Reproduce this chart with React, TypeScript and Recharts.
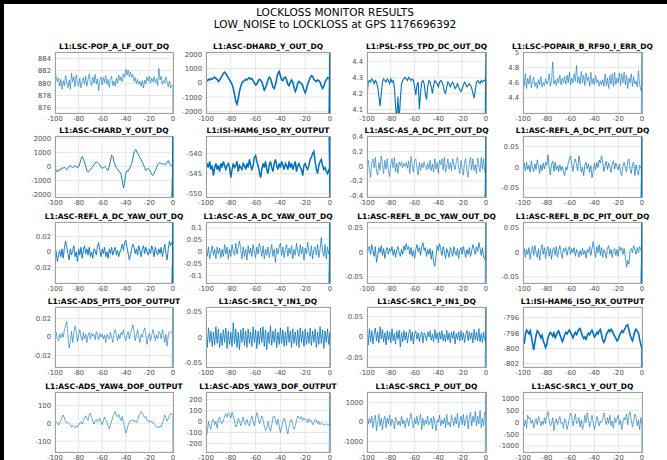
import React from "react";
import { LineChart, Line, XAxis, YAxis, CartesianGrid } from "recharts";

// time axis, seconds before lockloss
const SECONDS = Array.from({ length: 101 }, (_, i) => i - 100);
const X_TICKS = [-100, -80, -60, -40, -20, 0];

const POP_A_LF = [
  882.3, 881.0, 880.2, 880.8, 879.5, 880.6, 879.0, 880.4, 879.6, 881.2,
  880.0, 879.3, 880.5, 879.0, 881.6, 880.2, 881.0, 879.4, 881.3, 880.1,
  879.5, 880.8, 879.2, 880.3, 880.9, 879.8, 881.1, 879.5, 880.6, 881.5,
  880.2, 879.6, 881.0, 880.0, 881.4, 879.9, 880.7, 878.8, 880.4, 881.0,
  879.7, 880.9, 880.1, 881.2, 879.8, 880.6, 879.3, 880.5, 881.1, 879.6,
  880.3, 879.5, 880.8, 880.0, 881.3, 880.4, 881.0, 880.2, 881.5, 880.9,
  882.2, 881.3, 882.1, 881.0, 881.8, 880.9, 881.4, 880.3, 880.9, 879.9,
  880.6, 879.8, 880.3, 879.5, 880.4, 879.2, 880.5, 879.9, 881.0, 880.3,
  881.1, 880.0, 880.8, 880.2, 881.0, 880.1, 880.7, 879.6, 882.4, 880.5,
  881.1, 879.8, 880.4, 880.0, 881.0, 880.2, 879.4, 880.3, 879.2, 879.7,
  879.5,
];

const DHARD_Y = [
  200, 150, 250, 200, 300, 250, 350, 400, 300, 250,
  100, 200, 350, 500, 650, 750, 650, 500, 350, 200,
  50, -100, -400, -800, -1300, -1500, -1100, -600, -250, 0,
  100, 150, 250, 200, 300, 350, 250, 300, 150, 0,
  -150, -100, 100, 250, 200, 50, -200, -500, -350, -100,
  200, 400, 300, 0, -300, -400, -150, 300, 650, 800,
  500, 200, 150, 350, 400, 200, -100, -200, 50, 200,
  50, -300, -600, -400, 0, 100, 0, -50, -200, -500,
  -700, -450, -100, 150, 350, 500, 450, 250, 150, 100,
  200, 150, 50, -200, -400, -250, 50, 200, 350, 300,
  300,
];

const TPD_DC = [
  4.17, 4.27, 4.28, 4.27, 4.29, 4.28, 4.26, 4.28, 4.27, 4.24,
  4.18, 4.12, 4.2, 4.27, 4.29, 4.28, 4.27, 4.29, 4.28, 4.26,
  4.29, 4.27, 4.28, 4.24, 4.12, 4.03, 4.18, 4.03, 4.16, 4.26,
  4.28, 4.29, 4.3, 4.29, 4.28, 4.3, 4.29, 4.28, 4.29, 4.28,
  4.24, 4.19, 4.25, 4.27, 4.1, 4.2, 4.27, 4.28, 4.26, 4.2,
  4.16, 4.24, 4.28, 4.27, 4.24, 4.2, 4.25, 4.28, 4.27, 4.26,
  4.24, 4.27, 4.28, 4.27, 4.25, 4.21, 4.2, 4.24, 4.27, 4.26,
  4.24, 4.26, 4.27, 4.25, 4.23, 4.24, 4.26, 4.24, 4.22, 4.21,
  4.23, 4.25, 4.27, 4.26, 4.24, 4.25, 4.26, 4.25, 4.23, 4.2,
  4.17, 4.22, 4.27, 4.28, 4.27, 4.26, 4.28, 4.27, 4.28, 4.28,
  4.3,
];

const POPAIR_RF90 = [
  4.8, 4.55, 4.72, 4.52, 4.66, 4.58, 4.7, 4.53, 4.62, 4.68,
  4.55, 4.6, 4.52, 4.64, 4.57, 4.68, 4.54, 4.6, 4.56, 4.65,
  4.58, 4.62, 4.72, 4.55, 4.63, 4.88, 4.58, 4.64, 4.56, 4.66,
  4.6, 4.7, 4.57, 4.66, 4.6, 4.68, 4.58, 4.7, 4.6, 4.74,
  4.57, 4.66, 4.6, 4.72, 4.62, 4.83, 4.6, 4.68, 4.58, 4.75,
  4.6, 4.7, 4.56, 4.73, 4.62, 4.68, 4.55, 4.74, 4.58, 4.66,
  4.57, 4.7, 4.6, 4.64, 4.55, 4.62, 4.57, 4.64, 4.55, 4.72,
  4.56, 4.66, 4.52, 4.7, 4.58, 4.72, 4.55, 4.74, 4.57, 4.66,
  4.6, 4.73, 4.56, 4.72, 4.6, 4.74, 4.57, 4.7, 4.52, 4.66,
  4.6, 4.72, 4.55, 4.68, 4.58, 4.62, 4.54, 4.76, 4.58, 4.5,
  4.5,
];

const CHARD_Y = [
  100, -400, -300, -350, -200, -250, -100, -150, -50, -150,
  -250, -150, 0, 50, -50, -100, 0, 50, -50, -100,
  -50, 200, 500, 700, 550, 300, 0, -300, -400, -350,
  -250, -100, 0, 100, 250, 300, 300, 200, 100, -50,
  -150, -100, 0, -100, -200, -300, 0, 400, 800, 700,
  300, 100, -100, -200, -350, -400, -600, -1000, -1550, -1200,
  -500, -300, -350, -200, 0, 200, 600, 1000, 1200, 1150,
  900, 800, 600, 500, 300, 100, -100, -300, -200, -150,
  -250, -400, -600, -650, -500, -300, -100, 100, 200, 250,
  200, 150, 200, 100, 150, 300, 400, 200, 100, 0,
  0,
];

const HAM6_RY = [
  -544, -542.5, -543.5, -542, -544, -543, -545.5, -543.5, -542.5, -544,
  -543, -544.5, -542.5, -543.5, -542, -543, -544, -543, -542.5, -543.5,
  -546, -544, -542.5, -543.5, -543, -542, -544.5, -543, -543.5, -544,
  -542.5, -543, -544, -542.5, -543.5, -541.5, -543, -544, -543, -541,
  -540.5, -542, -543, -544.5, -546, -544, -542.5, -543.5, -542, -544,
  -545, -543, -542, -543.5, -544.5, -542.5, -541.5, -543, -544, -542.5,
  -543.5, -542, -543, -544, -542.5, -543, -544, -542, -543.5, -542.5,
  -544, -543, -542, -544.5, -543, -542.5, -543.5, -544, -545.5, -543,
  -542.5, -543.5, -544, -543, -541.5, -541, -540, -539.5, -542, -544,
  -545, -543, -542, -541.5, -543, -544, -543.5, -544.5, -545, -544,
  -544,
];

const AS_A_PIT = [
  0, 0.08, -0.05, -0.15, 0.05, 0.1, -0.02, 0.12, -0.08, -0.12,
  0.05, -0.05, 0.14, 0.02, -0.1, 0.08, -0.04, 0.1, -0.06, -0.14,
  0.03, 0.1, -0.02, 0.12, -0.08, 0.04, -0.1, 0.06, 0.01, 0.06,
  -0.02, 0.04, 0, 0.05, -0.03, 0.07, -0.1, 0.13, 0.02, -0.08,
  0.08, 0.1, -0.02, -0.12, 0.05, -0.06, 0.04, -0.02, 0.06, 0,
  -0.05, 0.04, -0.04, 0.08, -0.06, 0.03, -0.08, 0.1, -0.04, 0.05,
  -0.1, 0.08, 0.02, 0.1, -0.05, 0.12, -0.08, 0, 0.1, -0.04,
  0.05, -0.06, 0.1, 0.02, -0.05, 0.06, 0.12, -0.02, -0.1, 0.08,
  -0.04, -0.12, 0.06, 0.1, -0.08, -0.15, 0.04, 0.12, -0.05, 0.1,
  -0.06, 0.02, -0.1, 0.11, 0, -0.08, 0.12, -0.04, 0.1, -0.08,
  -0.12,
];

const REFL_A_PIT = [
  0, 0.01, -0.008, 0.012, -0.005, 0.005, -0.012, 0.015, 0, -0.01,
  0.008, -0.005, 0.018, 0.004, -0.015, 0.006, -0.008, 0.01, -0.004, 0.012,
  0.005, 0.03, 0, -0.018, 0.008, 0.015, -0.01, 0.012, -0.006, 0.004,
  -0.01, 0.006, -0.008, 0.002, -0.012, -0.02, 0, -0.006, 0.01, 0.02,
  0.028, 0.005, -0.01, 0.012, 0.02, 0.006, -0.008, 0.028, 0.01, -0.012,
  0, -0.02, 0.006, 0.012, -0.004, 0.008, -0.012, 0.004, -0.025, -0.01,
  0.01, -0.006, 0.012, 0, 0.018, 0.01, 0.028, 0.012, -0.01, 0.006,
  0.015, -0.005, 0.01, 0, -0.012, 0.008, 0.016, -0.004, 0.01, 0.002,
  -0.006, 0.008, -0.012, -0.02, 0.004, 0.012, 0, -0.01, 0.015, 0.02,
  -0.005, -0.015, 0.008, 0.012, -0.02, 0.006, -0.008, -0.018, 0.005, 0,
  -0.01,
];

const REFL_A_YAW = [
  0.008, 0, -0.012, -0.004, 0.002, -0.006, 0.004, -0.008, 0.006, 0.014,
  0.006, -0.002, -0.01, 0.004, -0.004, 0.002, 0.008, -0.006, 0, -0.012,
  0.004, -0.004, 0.006, -0.008, 0.002, 0.008, -0.002, 0.004, -0.004, 0.006,
  -0.006, 0, -0.008, 0.004, 0.002, -0.004, 0.008, 0.012, 0.002, -0.006,
  0.004, -0.002, 0.006, -0.006, 0, -0.008, 0.004, -0.002, 0.006, -0.004,
  0.002, 0.006, -0.004, 0.002, -0.006, 0, 0.004, 0.01, 0.002, 0.012,
  0.015, 0.006, -0.002, -0.01, -0.004, 0.004, 0.01, 0.006, -0.002, 0.004,
  -0.004, 0.008, 0.002, -0.006, 0.004, 0.008, -0.002, 0.006, 0, -0.004,
  0.004, -0.002, 0.008, 0.002, -0.006, 0.006, 0, -0.004, 0.004, -0.002,
  0.006, -0.006, 0.002, 0.01, -0.002, -0.01, 0.004, 0.014, 0.008, 0.012,
  0.01,
];

const AS_A_YAW = [
  0.03, -0.02, 0.02, -0.03, 0, 0.025, -0.015, 0.01, -0.03, 0.02,
  -0.01, 0.015, -0.025, 0.01, -0.02, 0.03, -0.01, 0.02, -0.03, 0.01,
  -0.02, 0.03, 0, -0.015, 0.035, -0.01, 0.02, 0.045, 0.01, -0.03,
  0.02, -0.02, 0.01, -0.035, 0.025, -0.01, 0.015, -0.02, 0.03, 0,
  -0.025, 0.02, -0.01, 0.035, 0.01, -0.02, 0.025, -0.03, 0.01, -0.015,
  0.02, -0.025, 0, 0.03, -0.02, 0.01, -0.045, 0.015, -0.01, 0.02,
  0.035, -0.015, 0.02, -0.025, 0.01, 0.03, -0.02, 0.015, -0.01, 0.025,
  -0.03, 0.01, -0.015, 0.035, 0, -0.02, 0.03, -0.01, 0.02, -0.035,
  0.015, -0.01, 0.04, 0, -0.02, 0.025, -0.03, 0.01, 0.02, -0.015,
  0.03, -0.025, 0.01, 0.06, 0, -0.02, 0.03, -0.03, 0.02, -0.01,
  0,
];

const REFL_B_YAW = [
  -0.01, 0.008, 0.012, -0.004, 0.016, 0.004, -0.008, 0.012, -0.02, -0.006,
  0.01, 0, 0.014, -0.006, 0.008, -0.012, 0.004, 0.01, -0.004, 0.008,
  0.002, 0.012, -0.006, 0.006, -0.01, 0.004, 0.012, 0, -0.008, 0.006,
  -0.004, 0.014, 0.004, 0.018, 0.006, 0.012, -0.004, 0.01, -0.008, 0.004,
  -0.012, 0.006, 0.016, 0.002, 0.01, -0.006, 0.012, 0.02, 0.004, 0.01,
  -0.008, 0.006, -0.004, 0.008, -0.014, 0.004, -0.02, -0.028, -0.008, 0.014,
  0.004, 0.018, 0.006, -0.006, 0.012, 0.002, -0.012, 0.008, 0, -0.01,
  0.01, 0.004, -0.008, 0.012, 0, -0.006, 0.008, -0.012, 0.004, 0.01,
  -0.004, 0.012, 0, -0.01, 0.006, -0.004, 0.01, -0.008, 0.004, 0.016,
  0.006, -0.004, 0.012, 0.002, 0.02, 0.008, -0.006, 0.01, -0.01, -0.014,
  -0.004,
];

const REFL_B_PIT = [
  -0.006, 0.008, -0.01, 0.006, -0.004, 0.01, -0.014, 0.004, 0.012, -0.006,
  0.014, 0, -0.01, 0.008, -0.016, 0.006, 0.016, -0.004, 0.01, -0.012,
  0.004, 0.012, -0.008, 0.008, -0.014, 0.006, 0.01, -0.006, 0.012, -0.01,
  0.004, 0.014, 0, -0.012, 0.008, 0.002, 0.01, -0.006, 0.006, 0.012,
  -0.004, 0.008, 0, 0.01, -0.008, 0.006, 0, -0.01, 0.004, -0.006,
  0.008, -0.004, 0.004, -0.012, 0.006, 0, 0.012, -0.006, 0.008, 0.022,
  0.004, -0.01, 0.012, 0, 0.016, -0.006, 0.01, -0.01, 0.006, 0,
  -0.012, 0.008, 0.014, -0.004, 0.006, -0.01, 0.004, 0.008, -0.006, 0.006,
  -0.008, 0.012, 0.004, 0.01, -0.004, 0.008, -0.01, -0.03, -0.016, -0.024,
  0.004, 0.008, 0, 0.014, 0.006, -0.004, 0.01, 0, 0.012, 0.006,
  0,
];

const ADS_PIT5 = [
  0, 0.005, -0.002, -0.004, 0.003, -0.001, 0.004, 0, 0.008, 0.012,
  0.017, 0.002, -0.012, -0.004, 0.006, -0.006, 0.004, 0.012, 0.006, -0.005,
  0.002, 0.008, 0, -0.004, 0.005, -0.002, 0.003, -0.006, 0.002, 0.005,
  -0.002, 0.004, 0.001, 0.003, -0.003, 0.006, 0.002, -0.003, 0.004, 0,
  0.003, -0.002, 0.002, -0.006, 0.003, 0, -0.002, 0.005, 0, -0.006,
  0.004, 0.008, 0.002, -0.004, 0.003, -0.002, 0.005, 0.002, 0.008, 0,
  -0.004, 0.002, 0.006, -0.002, 0.004, 0.008, 0.013, 0.006, -0.004, 0.002,
  0.008, 0, -0.006, 0.003, 0, 0.006, 0.01, 0.002, -0.008, 0,
  0.004, -0.004, 0.002, 0.008, 0.003, -0.004, 0.002, -0.002, 0.006, 0.004,
  -0.002, 0.008, 0.002, -0.006, 0.003, -0.01, 0.002, 0.006, 0.005, 0.004,
  0.005,
];

const SRC1_Y_IN1 = [
  0.015, -0.02, 0.018, -0.01, 0.012, -0.018, 0.01, -0.015, 0.02, -0.012,
  0.016, -0.02, 0.008, -0.016, 0.014, -0.01, 0.018, -0.022, 0.012, -0.014,
  0.01, -0.018, 0.028, -0.012, 0.016, -0.02, 0.01, -0.024, 0.014, -0.01,
  0.018, -0.016, 0.012, -0.02, 0.016, -0.012, 0.01, -0.018, 0.02, -0.01,
  0.014, -0.022, 0.012, -0.014, 0.018, -0.01, 0.02, -0.018, 0.014, -0.024,
  0.01, -0.012, 0.022, -0.016, 0.012, -0.01, 0.016, -0.02, 0.01, -0.014,
  0.018, -0.012, 0.014, -0.018, 0.01, -0.016, 0.02, -0.01, 0.012, -0.02,
  0.016, -0.012, 0.01, -0.016, 0.014, -0.02, 0.018, -0.01, 0.012, -0.018,
  0.016, -0.014, 0.01, -0.012, 0.018, -0.016, 0.012, -0.01, 0.016, -0.02,
  0.01, -0.014, 0.02, -0.012, 0.014, -0.022, 0.012, -0.01, 0.016, -0.014,
  0.01,
];

const SRC1_P_IN1 = [
  0.01, -0.02, 0.02, -0.012, 0.015, -0.018, 0.008, 0.022, -0.01, 0.012,
  -0.015, 0.025, -0.005, 0.018, -0.012, 0.01, -0.02, 0.015, -0.008, 0.012,
  -0.015, 0.02, -0.01, 0.008, -0.018, 0.014, -0.006, 0.016, -0.025, 0.01,
  -0.012, 0.015, -0.008, 0.012, -0.015, 0.006, 0.018, -0.01, 0.012, -0.018,
  0.008, 0.015, -0.006, 0.01, -0.012, 0.005, 0.012, -0.015, 0.01, 0.004,
  -0.01, 0.012, 0, 0.015, -0.008, 0.006, -0.012, 0.018, -0.005, 0.01,
  -0.015, 0.012, -0.006, 0.015, -0.01, 0.006, -0.012, 0.016, -0.008, 0.01,
  -0.015, 0.012, -0.004, 0.014, -0.018, 0.008, -0.006, 0.012, -0.01, 0.015,
  -0.008, 0.01, -0.014, 0.006, 0.016, -0.01, 0.012, -0.006, 0.01, -0.015,
  0.018, -0.008, 0.012, -0.01, 0.02, -0.012, 0.008, -0.014, 0.012, -0.008,
  -0.01,
];

const HAM6_RX = [
  -798.8, -799.4, -798.2, -797.6, -797.8, -798.1, -797.7, -798.4, -799.3, -800.2,
  -799.2, -798.3, -797.7, -797.9, -798.2, -798.6, -798.3, -799.0, -799.4, -799.9,
  -799.5, -798.6, -798.2, -797.9, -798.1, -798.4, -798.0, -798.6, -798.3, -797.9,
  -797.7, -798.2, -798.6, -799.1, -798.8, -798.2, -797.9, -798.1, -797.8, -797.6,
  -797.9, -798.3, -798.6, -798.2, -797.9, -798.2, -797.8, -797.5, -797.4, -797.9,
  -798.4, -798.7, -798.5, -798.8, -798.3, -798.0, -798.2, -797.8, -797.6, -798.0,
  -798.5, -798.3, -797.9, -798.1, -797.7, -797.5, -798.2, -798.9, -799.2, -798.8,
  -798.2, -797.9, -797.6, -797.8, -797.5, -797.7, -798.1, -798.4, -798.7, -799.0,
  -798.8, -798.3, -798.0, -797.7, -797.9, -797.6, -797.3, -797.0, -796.9, -797.6,
  -798.2, -798.7, -799.0, -798.4, -797.8, -797.5, -797.7, -798.0, -798.8, -799.5,
  -800.0,
];

const ADS_YAW4 = [
  0, 10, 2, -10, 5, 15, 32, 46, 30, 8,
  2, 5, -2, -8, -22, -12, -18, -25, -15, -20,
  -10, 2, 8, -5, 12, 30, 42, 25, 15, 48,
  57, 35, 10, -5, 15, 22, 8, 20, 28, 5,
  -8, 15, 35, 20, 5, -15, -32, -10, 12, 35,
  50, 66, 45, 35, 50, 30, 15, 38, 5, -25,
  -55, -35, -10, 8, 18, 12, 20, 10, 15, 5,
  18, 40, 55, 66, 58, 42, 30, 38, 20, 10,
  15, 5, 12, 2, -5, -12, -22, -18, -25, -15,
  -20, 0, 20, 45, 30, 12, 25, 45, 55, 50,
  50,
];

const ADS_YAW3 = [
  -150, -100, 0, -50, -70, 10, 20, -30, 0, -60,
  20, 40, -10, -20, 10, 50, 70, 40, 80, 60,
  30, 85, 50, 10, -50, -30, 30, 10, -40, 0,
  40, -10, -30, 20, -20, -40, 10, 50, 0, -40,
  30, 80, 40, -20, 10, 50, 20, -40, -80, -60,
  0, -50, -90, -30, 40, 50, 10, -30, 20, -40,
  -100, -60, 0, 30, 0, -70, -110, -50, 10, 20,
  -30, -70, -40, 10, 50, 40, 20, 45, 10, 30,
  15, 20, -10, 25, 0, 10, -30, -10, 20, 10,
  -20, 0, -30, -10, -20, -35, -20, -30, -25, -30,
  -30,
];

const SRC1_P_OUT = [
  250, -100, 200, -50, 300, -300, 100, 350, -450, 0,
  400, -200, 200, -400, 100, 300, -300, 200, -100, 350,
  -200, 150, 0, -350, 250, 100, -150, 50, -200, 300,
  -100, 100, -300, 50, 200, -200, 150, 450, 0, -300,
  200, -100, 300, -150, 100, 400, -400, 200, -200, 100,
  -100, 300, -150, 0, 200, -350, 300, -50, -450, 100,
  0, 350, -200, 100, -100, 200, -300, 400, -150, 0,
  -250, 350, 100, -200, 250, -100, 450, -300, 0, 300,
  -150, 400, -200, 100, 350, -350, 200, 500, -200, 300,
  0, 550, -200, 300, -100, 600, -300, 200, -200, 500,
  400,
];

const SRC1_Y_OUT = [
  50, -150, 100, -250, 300, 150, 200, -50, 100, -250,
  0, 150, -100, 250, 100, -150, 50, -100, 200, -50,
  300, 450, 100, -150, -50, 200, -350, 0, 150, -100,
  100, 250, -50, 0, -250, 150, 50, -300, -100, 200,
  400, 250, -150, 100, 350, -50, 0, 200, -200, 100,
  -300, -100, 300, 0, 400, 100, -200, 50, 300, 0,
  -300, -100, 250, 100, -150, 50, 0, 150, 400, 100,
  -100, 200, -50, 300, -150, 50, -250, 200, 0, 150,
  300, -100, 100, -300, 0, 200, 100, 350, -100, 300,
  450, 100, -200, 50, 350, 200, -150, 100, -300, 200,
  -100,
];

type Panel = {
  title: string;
  values: number[];
  tail: number[]; // samples right at the lockloss (t = 0)
  domain: [number, number];
  ticks: number[];
  weight: number;
};

const PANELS: Panel[] = [
  { title: "L1:LSC-POP_A_LF_OUT_DQ", values: POP_A_LF, tail: [874.5], domain: [875.2, 885], ticks: [876, 878, 880, 882, 884], weight: 0.6 },
  { title: "L1:ASC-DHARD_Y_OUT_DQ", values: DHARD_Y, tail: [2500, -2500, 2500, -2500], domain: [-2115, 2160], ticks: [-2000, -1000, 0, 1000, 2000], weight: 1.6 },
  { title: "L1:PSL-FSS_TPD_DC_OUT_DQ", values: TPD_DC, tail: [4.5, 4.0, 4.5], domain: [4.077, 4.458], ticks: [4.1, 4.2, 4.3, 4.4], weight: 1.1 },
  { title: "L1:LSC-POPAIR_B_RF90_I_ERR_DQ", values: POPAIR_RF90, tail: [5.1, 4.1], domain: [4.19, 5.013], ticks: [4.4, 4.6, 4.8, 5], weight: 0.6 },
  { title: "L1:ASC-CHARD_Y_OUT_DQ", values: CHARD_Y, tail: [2500, -2500, 2500, -2500], domain: [-2190, 2165], ticks: [-2000, -1000, 0, 1000, 2000], weight: 0.9 },
  { title: "L1:ISI-HAM6_ISO_RY_OUTPUT", values: HAM6_RY, tail: [-552, -534], domain: [-550.8, -535.7], ticks: [-550, -545, -540], weight: 1.5 },
  { title: "L1:ASC-AS_A_DC_PIT_OUT_DQ", values: AS_A_PIT, tail: [0.5, -0.5, 0.5, -0.5], domain: [-0.418, 0.41], ticks: [-0.4, -0.2, 0, 0.2, 0.4], weight: 0.6 },
  { title: "L1:ASC-REFL_A_DC_PIT_OUT_DQ", values: REFL_A_PIT, tail: [0.09, -0.09, 0.09, -0.09], domain: [-0.0716, 0.0756], ticks: [-0.05, 0, 0.05], weight: 0.7 },
  { title: "L1:ASC-REFL_A_DC_YAW_OUT_DQ", values: REFL_A_YAW, tail: [0.05, -0.05, 0.05, -0.05], domain: [-0.0396, 0.0383], ticks: [-0.02, 0, 0.02], weight: 0.9 },
  { title: "L1:ASC-AS_A_DC_YAW_OUT_DQ", values: AS_A_YAW, tail: [0.15, -0.15, 0.15, -0.15], domain: [-0.132, 0.125], ticks: [-0.1, -0.05, 0, 0.05, 0.1], weight: 0.7 },
  { title: "L1:ASC-REFL_B_DC_YAW_OUT_DQ", values: REFL_B_YAW, tail: [0.07, -0.07], domain: [-0.0624, 0.0622], ticks: [-0.05, 0, 0.05], weight: 0.8 },
  { title: "L1:ASC-REFL_B_DC_PIT_OUT_DQ", values: REFL_B_PIT, tail: [0.07, -0.07, 0.07, -0.07], domain: [-0.0624, 0.0622], ticks: [-0.05, 0, 0.05], weight: 0.7 },
  { title: "L1:ASC-ADS_PIT5_DOF_OUTPUT", values: ADS_PIT5, tail: [0.04, -0.04], domain: [-0.0325, 0.0325], ticks: [-0.02, 0, 0.02], weight: 0.6 },
  { title: "L1:ASC-SRC1_Y_IN1_DQ", values: SRC1_Y_IN1, tail: [-0.07], domain: [-0.0576, 0.0583], ticks: [-0.05, 0, 0.05], weight: 0.8 },
  { title: "L1:ASC-SRC1_P_IN1_DQ", values: SRC1_P_IN1, tail: [0.09, -0.09], domain: [-0.0744, 0.0736], ticks: [-0.05, 0, 0.05], weight: 0.8 },
  { title: "L1:ISI-HAM6_ISO_RX_OUTPUT", values: HAM6_RX, tail: [-803], domain: [-802.43, -794.58], ticks: [-802, -800, -798, -796], weight: 1.6 },
  { title: "L1:ASC-ADS_YAW4_DOF_OUTPUT", values: ADS_YAW4, tail: [-170], domain: [-160, 174], ticks: [-100, 0, 100], weight: 0.6 },
  { title: "L1:ASC-ADS_YAW3_DOF_OUTPUT", values: ADS_YAW3, tail: [300, -300], domain: [-275, 266], ticks: [-200, -100, 0, 100, 200], weight: 0.6 },
  { title: "L1:ASC-SRC1_P_OUT_DQ", values: SRC1_P_OUT, tail: [2000, -2000], domain: [-1552, 1552], ticks: [-1000, 0, 1000], weight: 0.6 },
  { title: "L1:ASC-SRC1_Y_OUT_DQ", values: SRC1_Y_OUT, tail: [-1300], domain: [-1253, 1282], ticks: [-1000, -500, 0, 500, 1000], weight: 0.6 },
];

// plot-area edges in page pixels
const COLS = [[55, 173], [206, 330], [367, 486], [523, 642]];
const ROWS = [[52, 113], [136, 197], [222, 283], [307, 367], [392, 452]];
const FONT = "'DejaVu Sans', sans-serif";
const BLUE = "#0072BD";

function Subplot({ panel, index }: { panel: Panel; index: number }) {
  const [x0, x1] = COLS[index % 4];
  const [y0, y1] = ROWS[Math.floor(index / 4)];
  const w = x1 - x0;
  const h = y1 - y0;
  const padL = 40, padR = 6, padT = 2, padB = 14;

  const data = SECONDS.map((t, i) => ({ t, v: panel.values[i] }));
  panel.tail.forEach((v, k) => data.push({ t: k % 2 === 0 ? 0 : -0.7, v }));

  const tickStyle = { fontSize: 6.8, fill: "#4d4d4d", fontFamily: FONT };

  return (
    <>
      <div
        style={{
          position: "absolute", left: x0 - 40, width: w + 80, top: y0 - 9.6,
          textAlign: "center", fontSize: 7.5, fontWeight: "bold", lineHeight: "9px",
          whiteSpace: "nowrap", color: "#000",
        }}
      >
        {panel.title}
      </div>
      <div style={{ position: "absolute", left: x0 - padL, top: y0 - padT }}>
        <LineChart width={w + padL + padR} height={h + padT + padB} data={data} margin={{ top: padT, right: padR, bottom: 0, left: 0 }}>
          <CartesianGrid stroke="#e6e6e6" strokeWidth={1} />
          <XAxis
            dataKey="t" type="number" domain={[-100, 0]} ticks={X_TICKS} interval={0}
            allowDataOverflow axisLine={false} tickLine={false} tickSize={2} tickMargin={1}
            height={padB} tick={tickStyle}
          />
          <YAxis
            type="number" domain={panel.domain} ticks={panel.ticks} interval={0}
            allowDataOverflow axisLine={false} tickLine={false} tickSize={2} tickMargin={2}
            width={padL} tick={tickStyle}
          />
          <Line dataKey="v" stroke={BLUE} strokeWidth={panel.weight} dot={false} isAnimationActive={false} />
        </LineChart>
        <div
          style={{
            position: "absolute", left: padL, top: padT, width: w + 1, height: h + 1,
            boxSizing: "border-box", border: "1px solid #a0a0a0", pointerEvents: "none",
          }}
        />
      </div>
    </>
  );
}

export default function App() {
  return (
    <div style={{ position: "absolute", left: 0, top: 0, width: 667, height: 460, background: "#000", overflow: "hidden", fontFamily: FONT }}>
      <div style={{ position: "absolute", left: 4, top: 4, width: 663, height: 456, background: "#fff" }} />
      <div style={{ position: "absolute", left: 0, width: 670, top: 6, textAlign: "center", fontSize: 10.5, lineHeight: "12px", color: "#000" }}>
        <div>LOCKLOSS MONITOR RESULTS</div>
        <div>LOW_NOISE to LOCKLOSS at GPS 1176696392</div>
      </div>
      {PANELS.map((p, i) => (
        <Subplot key={p.title} panel={p} index={i} />
      ))}
    </div>
  );
}
